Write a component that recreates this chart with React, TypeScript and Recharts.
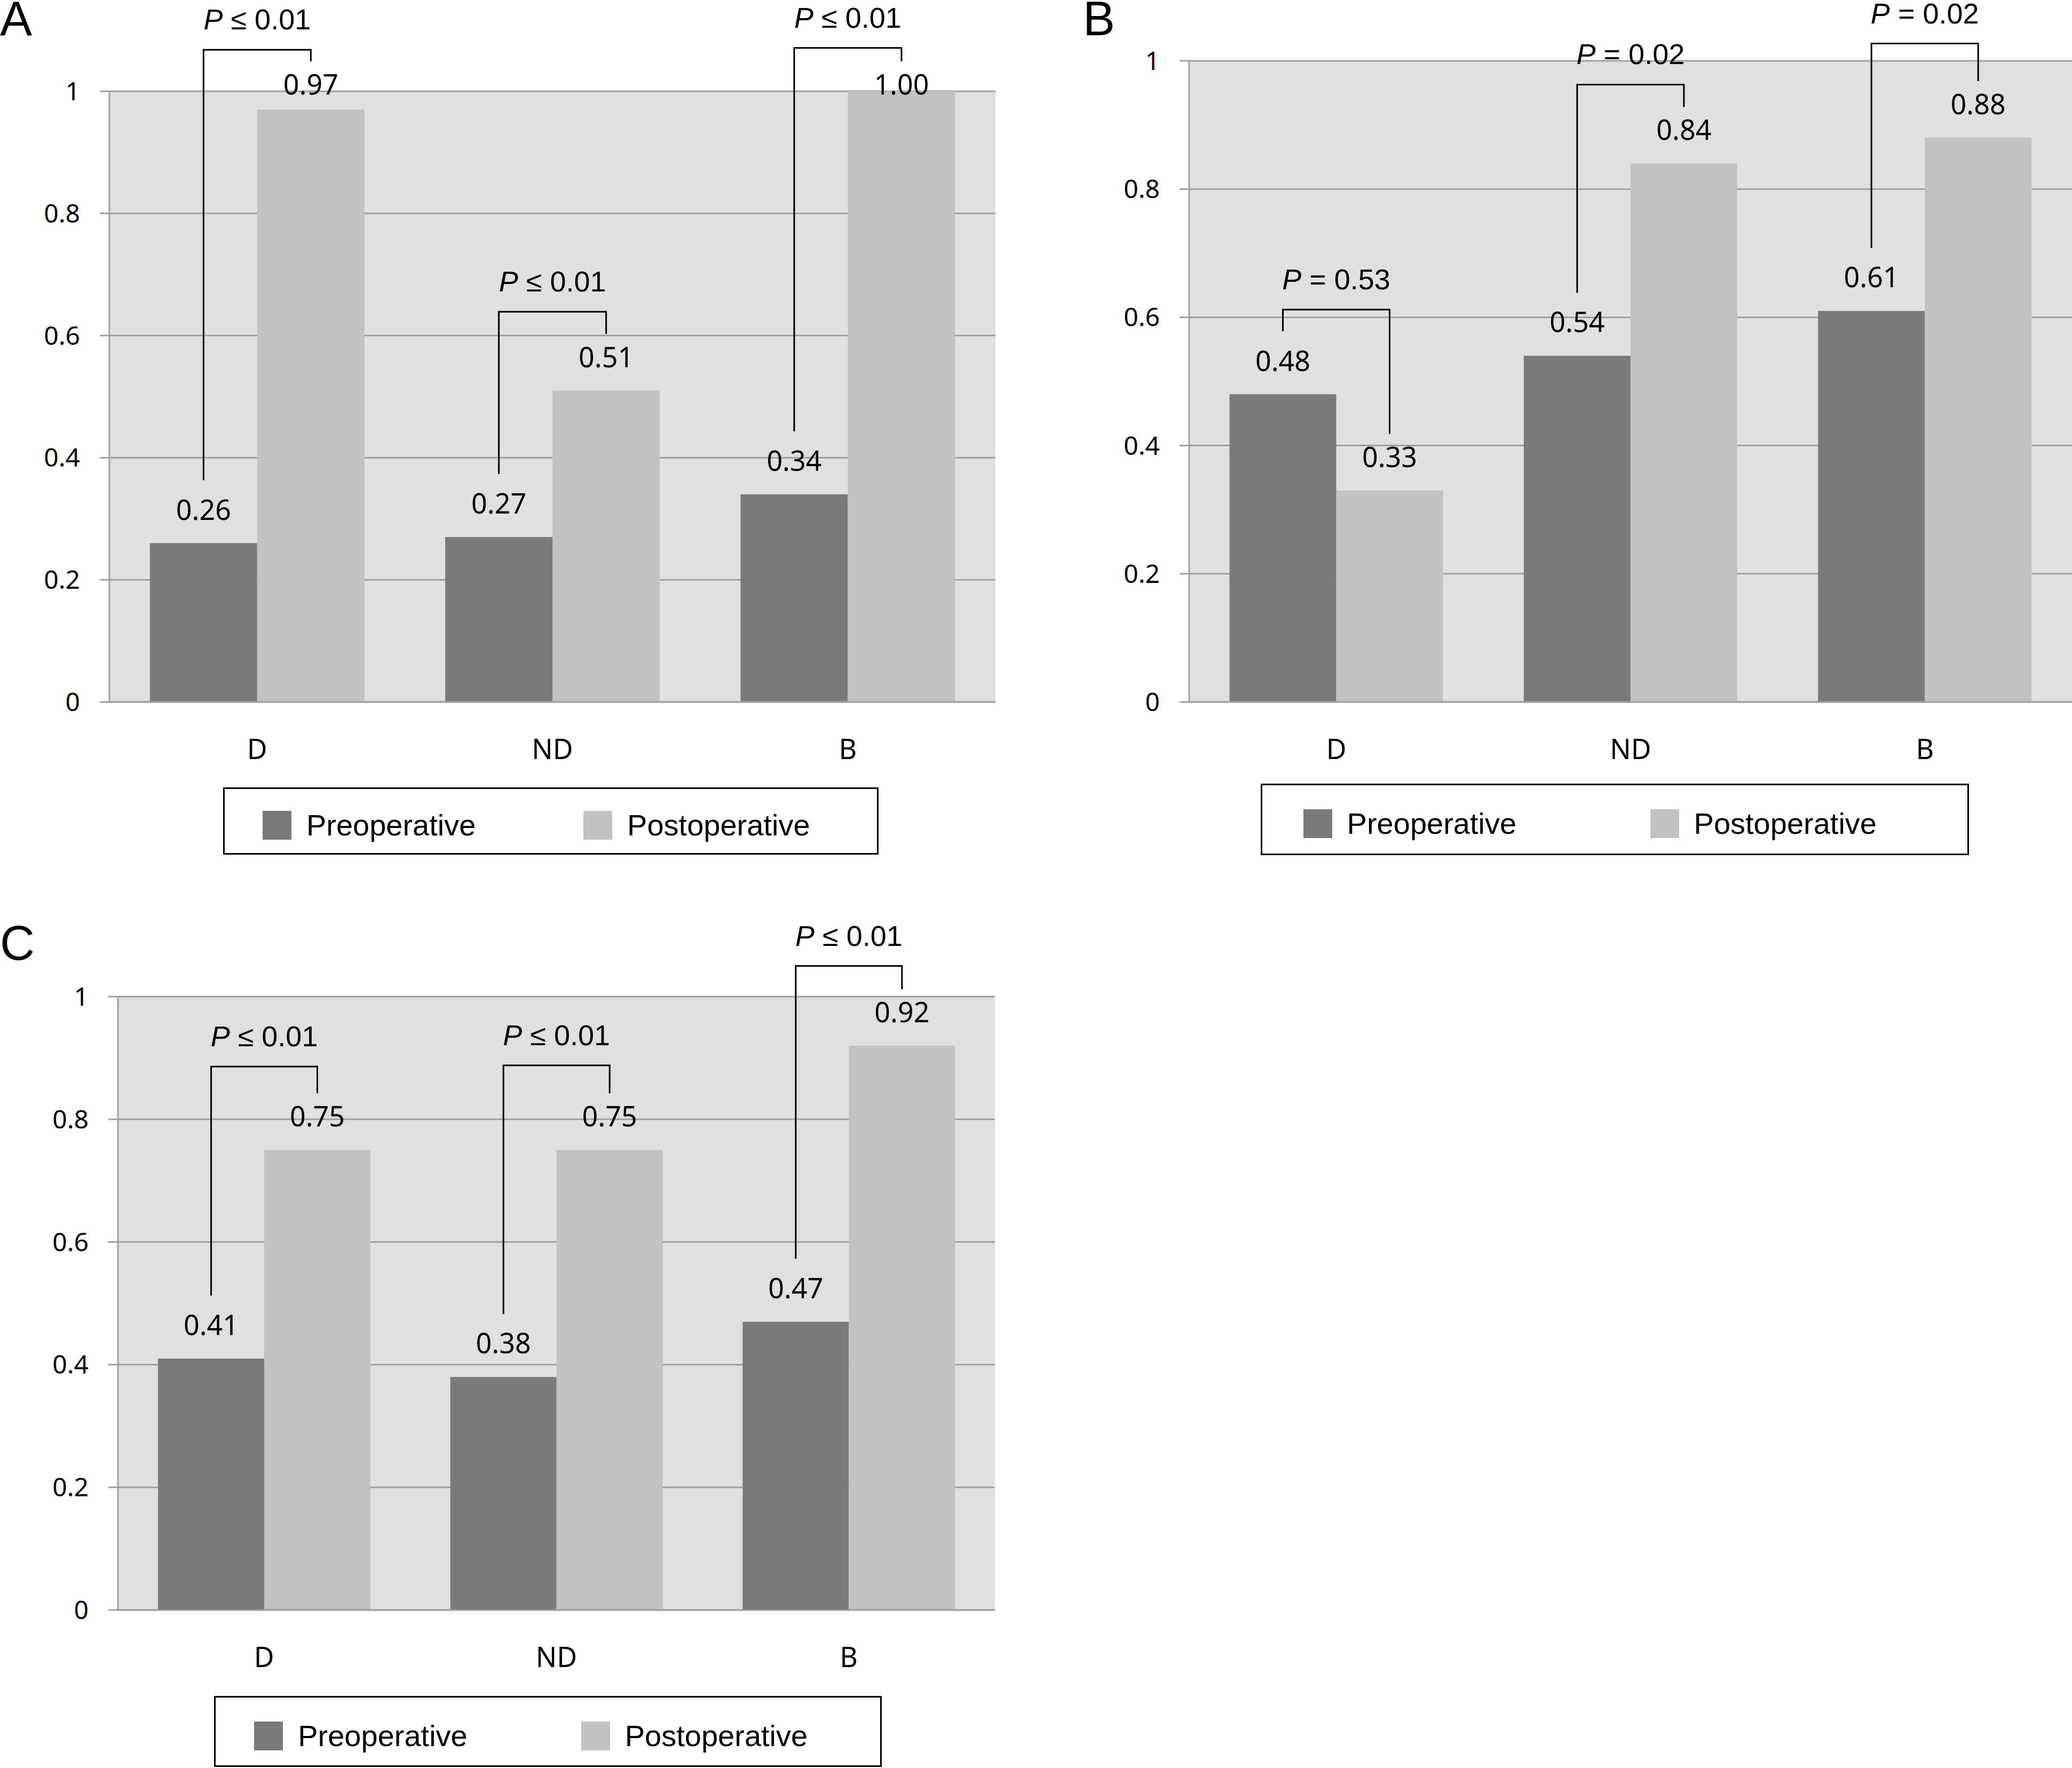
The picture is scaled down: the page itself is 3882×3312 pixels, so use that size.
import React from 'react';
import { BarChart, Bar, XAxis, YAxis, CartesianGrid, Legend, LabelList } from 'recharts';

// categories and values
const categories = ['D', 'ND', 'B'];
const seriesNames = ['Preoperative', 'Postoperative'];
const yTicks = [0, 0.2, 0.4, 0.6, 0.8, 1];

const preA = [0.26, 0.27, 0.34];
const postA = [0.97, 0.51, 1.0];
const bracketA = [1.068, 0.639, 1.071];
const pA = ['≤ 0.01', '≤ 0.01', '≤ 0.01'];

const preB = [0.48, 0.54, 0.61];
const postB = [0.33, 0.84, 0.88];
const bracketB = [0.612, 0.963, 1.027];
const pB = ['= 0.53', '= 0.02', '= 0.02'];

const preC = [0.41, 0.38, 0.47];
const postC = [0.75, 0.75, 0.92];
const bracketC = [0.886, 0.888, 1.05];
const pC = ['≤ 0.01', '≤ 0.01', '≤ 0.01'];

const PRE = '#7a7a7a';
const POST = '#c2c2c2';
const BG = '#e0e0e0';
const GRID = '#a0a0a0';
const SANS = '"Noto Sans", "Open Sans", sans-serif';
const ARIAL = '"Liberation Sans", Arial, sans-serif';

const fmt = (v: any) => Number(v).toFixed(2);

// bar geometry -> pixel mapping (uses the library's own bar rectangle)
const barGeom = (props: any, value: number) => {
  const vb = props.viewBox || props;
  const x = Number(vb.x);
  const w = Number(vb.width);
  const h = Math.abs(Number(vb.height));
  const yTop = Math.min(Number(vb.y), Number(vb.y) + Number(vb.height));
  const bottom = yTop + h;
  const k = h / value;
  const px = (d: number) => bottom - d * k;
  return { x, w, yTop, px };
};

// value label + bracket + P text, drawn from the postoperative bar
const makePost = (pre: number[], post: number[], tops: number[], pText: string[]) => (props: any) => {
  const i = props.index;
  const { x, w, yTop, px } = barGeom(props, post[i]);
  // label sits above the bar, but never higher than just under the top gridline
  const base = Math.max(yTop - 44, px(1) + 6);
  const xl = x - w / 2;
  const xr = x + w / 2;
  const yb = px(tops[i]);
  const yl = px(pre[i]) - 118;
  const yr = base - 62;
  return (
    <g>
      <text x={xr} y={base} textAnchor="middle" fontFamily={SANS} fontSize={52} fill="#000">
        {fmt(post[i])}
      </text>
      <polyline
        points={`${xl},${yl} ${xl},${yb} ${xr},${yb} ${xr},${yr}`}
        fill="none"
        stroke="#000"
        strokeWidth={3}
      />
      <text x={(xl + xr) / 2} y={yb - 38} textAnchor="middle" fontFamily={ARIAL} fontSize={54} fill="#000">
        <tspan fontStyle="italic">P</tspan> {pText[i]}
      </text>
    </g>
  );
};

const renderLegend = (props: any) => {
  const lefts = ['5.8%', '55%'];
  const items = [...(props.payload || [])].sort(
    (a: any, b: any) => seriesNames.indexOf(a.value) - seriesNames.indexOf(b.value)
  );
  return (
    <div
      style={{
        position: 'relative',
        width: '100%',
        height: '100%',
        boxSizing: 'border-box',
        border: '3px solid #000',
        background: '#fff',
      }}
    >
      {items.map((it: any, i: number) => (
        <div
          key={it.value}
          style={{
            position: 'absolute',
            left: lefts[i],
            top: '50%',
            transform: 'translateY(-50%)',
            marginTop: 8,
            display: 'flex',
            alignItems: 'center',
          }}
        >
          <div style={{ width: 54, height: 54, background: it.color }} />
          <span style={{ marginLeft: 28, fontFamily: ARIAL, fontSize: 56, lineHeight: 1, color: '#000' }}>
            {it.value}
          </span>
        </div>
      ))}
    </div>
  );
};

function Panel(props: any) {
  const { left, top, width, height, margin, legendBox, xAxisHeight, pre, post, tops, pText } = props;
  const data = categories.map((name, i) => ({ name, pre: pre[i], post: post[i] }));
  return (
    <div style={{ position: 'absolute', left, top }}>
      <BarChart width={width} height={height} data={data} margin={margin} barGap={0} barCategoryGap="13.7%">
        <CartesianGrid vertical={false} stroke={GRID} strokeWidth={3} fill={BG} />
        <XAxis
          dataKey="name"
          height={xAxisHeight}
          axisLine={{ stroke: GRID, strokeWidth: 3 }}
          tickLine={false}
          tickSize={0}
          tickMargin={70}
          interval={0}
          tick={{ fill: '#000', fontSize: 52, fontFamily: SANS }}
        />
        <YAxis
          width={205}
          domain={[0, 1]}
          ticks={yTicks}
          interval={0}
          axisLine={{ stroke: GRID, strokeWidth: 3 }}
          tickLine={{ stroke: GRID, strokeWidth: 3 }}
          tickSize={18}
          tickMargin={37}
          tick={{ fill: '#000', fontSize: 48, fontFamily: SANS }}
        />
        <Legend
          verticalAlign="bottom"
          align="left"
          content={renderLegend}
          wrapperStyle={{ left: legendBox[0], top: legendBox[1], width: legendBox[2], height: legendBox[3] }}
        />
        <Bar dataKey="pre" name={seriesNames[0]} fill={PRE} isAnimationActive={false}>
          <LabelList
            dataKey="pre"
            position="top"
            offset={44}
            formatter={fmt}
            fill="#000"
            fontSize={52}
            fontFamily={SANS}
          />
        </Bar>
        <Bar dataKey="post" name={seriesNames[1]} fill={POST} isAnimationActive={false}>
          <LabelList dataKey="post" content={makePost(pre, post, tops, pText)} />
        </Bar>
      </BarChart>
    </div>
  );
}

const Letter = ({ x, y, ch }: any) => (
  <svg style={{ position: 'absolute', left: x, top: y }} width={120} height={100}>
    <text x={0} y={66} fontFamily={ARIAL} fontSize={90} fill="#000">
      {ch}
    </text>
  </svg>
);

export default function App() {
  return (
    <div
      style={{
        position: 'absolute',
        left: 0,
        top: 0,
        width: 3882,
        height: 3312,
        background: '#fff',
        overflow: 'hidden',
      }}
    >
      <Panel
        left={0}
        top={0}
        width={1905}
        height={1640}
        margin={{ top: 171, right: 40, left: 0, bottom: 0 }}
        legendBox={[418, 1475, 1228, 126]}
        xAxisHeight={199}
        pre={preA}
        post={postA}
        tops={bracketA}
        pText={pA}
      />
      <Panel
        left={2023}
        top={0}
        width={1859}
        height={1640}
        margin={{ top: 114, right: 0, left: 0, bottom: 0 }}
        legendBox={[339, 1468, 1327, 134]}
        xAxisHeight={191}
        pre={preB}
        post={postB}
        tops={bracketB}
        pText={pB}
      />
      <Panel
        left={16}
        top={1700}
        width={1888}
        height={1612}
        margin={{ top: 167, right: 40, left: 0, bottom: 0 }}
        legendBox={[385, 1477, 1251, 133]}
        xAxisHeight={163}
        pre={preC}
        post={postC}
        tops={bracketC}
        pText={pC}
      />
      <Letter x={0} y={0} ch="A" />
      <Letter x={2029} y={0} ch="B" />
      <Letter x={0} y={1732} ch="C" />
    </div>
  );
}
